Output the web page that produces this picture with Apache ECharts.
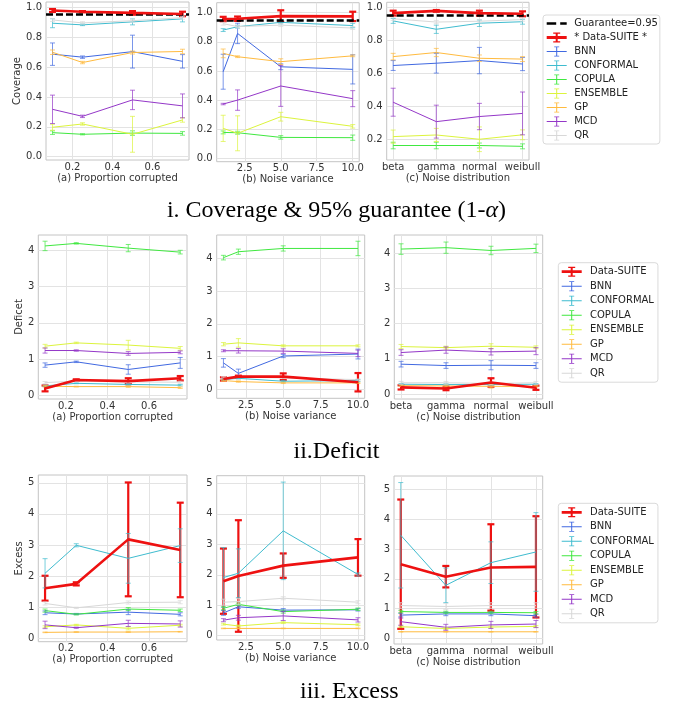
<!DOCTYPE html>
<html><head><meta charset="utf-8">
<script src="https://cdn.jsdelivr.net/npm/echarts@6/dist/echarts.min.js"></script>
<style>html,body{margin:0;padding:0;background:#fff}#c{width:673px;height:711px}</style>
</head><body><div id="c"></div>
<script>
// ---------------- data ----------------
const METHODS = ['Data-SUITE','BNN','CONFORMAL','COPULA','ENSEMBLE','GP','MCD','QR'];
const xProportion = [0.1, 0.25, 0.5, 0.75];
const xVariance = [1, 2, 5, 10];
const xDistribution = ['beta', 'gamma', 'normal', 'weibull'];
const GUARANTEE = 0.95;

const coverageProportionMean = {
  'Data-SUITE':[0.978,0.970,0.962,0.955], BNN:[0.686,0.666,0.703,0.638], CONFORMAL:[0.893,0.882,0.902,0.922],
  COPULA:[0.161,0.150,0.158,0.156], ENSEMBLE:[0.197,0.219,0.150,0.246], GP:[0.699,0.630,0.697,0.704],
  MCD:[0.317,0.270,0.380,0.340], QR:[0.915,0.895,0.910,0.930]};
const coverageProportionErr = {
  'Data-SUITE':[0.010,0.004,0.012,0.015], BNN:[0.075,0.008,0.110,0.045], CONFORMAL:[0.030,0.005,0.020,0.020],
  COPULA:[0.012,0.004,0.015,0.012], ENSEMBLE:[0.020,0.008,0.120,0.015], GP:[0.015,0.008,0.010,0.015],
  MCD:[0.095,0.008,0.065,0.080], QR:[0.010,0.008,0.010,0.010]};

const coverageVarianceMean = {
  'Data-SUITE':[0.957,0.959,0.977,0.975], BNN:[0.595,0.858,0.629,0.611], CONFORMAL:[0.881,0.904,0.934,0.912],
  COPULA:[0.178,0.176,0.144,0.142], ENSEMBLE:[0.206,0.172,0.286,0.220], GP:[0.721,0.698,0.664,0.704],
  MCD:[0.373,0.400,0.497,0.410], QR:[0.925,0.905,0.915,0.895]};
const coverageVarianceErr = {
  'Data-SUITE':[0.015,0.015,0.040,0.032], BNN:[0.120,0.070,0.020,0.100], CONFORMAL:[0.010,0.010,0.010,0.015],
  COPULA:[0.010,0.010,0.012,0.018], ENSEMBLE:[0.090,0.120,0.030,0.012], GP:[0.030,0.006,0.020,0.006],
  MCD:[0.005,0.070,0.140,0.055], QR:[0.010,0.010,0.010,0.010]};

const coverageDistributionMean = {
  'Data-SUITE':[0.964,0.978,0.964,0.960], BNN:[0.646,0.660,0.676,0.655], CONFORMAL:[0.917,0.866,0.903,0.912],
  COPULA:[0.160,0.160,0.160,0.155], ENSEMBLE:[0.214,0.224,0.198,0.225], GP:[0.700,0.725,0.690,0.685],
  MCD:[0.423,0.305,0.336,0.355], QR:[0.930,0.910,0.915,0.925]};
const coverageDistributionErr = {
  'Data-SUITE':[0.015,0.005,0.015,0.015], BNN:[0.030,0.060,0.080,0.040], CONFORMAL:[0.015,0.025,0.020,0.015],
  COPULA:[0.020,0.020,0.015,0.015], ENSEMBLE:[0.040,0.040,0.075,0.030], GP:[0.020,0.025,0.020,0.015],
  MCD:[0.085,0.100,0.080,0.130], QR:[0.010,0.010,0.010,0.010]};

const deficitProportionMean = {
  'Data-SUITE':[0.20,0.43,0.40,0.48], BNN:[0.84,0.93,0.72,0.90], CONFORMAL:[0.27,0.34,0.31,0.29],
  COPULA:[4.11,4.18,4.05,3.94], ENSEMBLE:[1.36,1.45,1.39,1.30], GP:[0.26,0.25,0.25,0.22],
  MCD:[1.24,1.24,1.16,1.19], QR:[0.36,0.40,0.38,0.37]};
const deficitProportionErr = {
  'Data-SUITE':[0.08,0.02,0.08,0.06], BNN:[0.06,0.02,0.13,0.15], CONFORMAL:[0.02,0.01,0.02,0.02],
  COPULA:[0.13,0.02,0.10,0.05], ENSEMBLE:[0.05,0.02,0.13,0.05], GP:[0.02,0.01,0.02,0.02],
  MCD:[0.07,0.02,0.05,0.04], QR:[0.03,0.01,0.03,0.03]};

const deficitVarianceMean = {
  'Data-SUITE':[0.32,0.39,0.39,0.22], BNN:[0.81,0.49,1.02,1.08], CONFORMAL:[0.30,0.34,0.25,0.27],
  COPULA:[4.02,4.20,4.30,4.30], ENSEMBLE:[1.38,1.42,1.33,1.33], GP:[0.27,0.24,0.20,0.20],
  MCD:[1.18,1.18,1.17,1.10], QR:[0.37,0.38,0.35,0.30]};
const deficitVarianceErr = {
  'Data-SUITE':[0.05,0.03,0.10,0.28], BNN:[0.13,0.13,0.05,0.15], CONFORMAL:[0.02,0.02,0.02,0.03],
  COPULA:[0.07,0.08,0.08,0.22], ENSEMBLE:[0.05,0.13,0.03,0.03], GP:[0.02,0.02,0.02,0.02],
  MCD:[0.03,0.07,0.07,0.10], QR:[0.02,0.02,0.02,0.02]};

const deficitDistributionMean = {
  'Data-SUITE':[0.19,0.16,0.33,0.18], BNN:[0.85,0.81,0.82,0.81], CONFORMAL:[0.28,0.27,0.27,0.28],
  COPULA:[4.12,4.16,4.08,4.14], ENSEMBLE:[1.35,1.32,1.36,1.33], GP:[0.24,0.23,0.22,0.22],
  MCD:[1.18,1.25,1.20,1.22], QR:[0.32,0.32,0.30,0.32]};
const deficitDistributionErr = {
  'Data-SUITE':[0.06,0.05,0.12,0.06], BNN:[0.08,0.08,0.13,0.08], CONFORMAL:[0.02,0.02,0.02,0.02],
  COPULA:[0.15,0.16,0.12,0.12], ENSEMBLE:[0.06,0.04,0.07,0.04], GP:[0.02,0.03,0.05,0.02],
  MCD:[0.08,0.09,0.09,0.10], QR:[0.04,0.04,0.04,0.04]};

const excessProportionMean = {
  'Data-SUITE':[1.61,1.75,3.18,2.84], BNN:[0.82,0.78,0.84,0.77], CONFORMAL:[2.09,2.99,2.57,2.98],
  COPULA:[0.89,0.77,0.94,0.90], ENSEMBLE:[0.37,0.43,0.32,0.42], GP:[0.19,0.20,0.20,0.21],
  MCD:[0.43,0.34,0.48,0.46], QR:[1.12,0.98,1.15,1.16]};
const excessProportionErr = {
  'Data-SUITE':[0.40,0.05,1.83,1.52], BNN:[0.06,0.02,0.08,0.05], CONFORMAL:[0.47,0.05,0.80,0.54],
  COPULA:[0.05,0.02,0.05,0.04], ENSEMBLE:[0.03,0.02,0.05,0.03], GP:[0.01,0.01,0.01,0.01],
  MCD:[0.12,0.02,0.10,0.10], QR:[0.05,0.02,0.05,0.05]};

const excessVarianceMean = {
  'Data-SUITE':[1.79,1.96,2.30,2.57], BNN:[0.75,0.95,0.84,0.85], CONFORMAL:[1.91,2.05,3.44,2.01],
  COPULA:[0.90,1.03,0.79,0.87], ENSEMBLE:[0.38,0.32,0.43,0.36], GP:[0.24,0.24,0.24,0.24],
  MCD:[0.51,0.59,0.65,0.52], QR:[1.10,1.12,1.23,1.10]};
const excessVarianceErr = {
  'Data-SUITE':[1.07,1.83,0.40,0.60], BNN:[0.08,0.05,0.05,0.04], CONFORMAL:[0.98,0.80,1.60,0.05],
  COPULA:[0.05,0.04,0.05,0.04], ENSEMBLE:[0.03,0.03,0.03,0.03], GP:[0.01,0.01,0.01,0.01],
  MCD:[0.05,0.08,0.15,0.07], QR:[0.10,0.10,0.05,0.05]};

const excessDistributionMean = {
  'Data-SUITE':[2.49,2.07,2.38,2.40], BNN:[0.78,0.82,0.82,0.76], CONFORMAL:[3.46,1.78,2.54,2.90],
  COPULA:[0.90,0.87,0.87,0.86], ENSEMBLE:[0.39,0.33,0.38,0.40], GP:[0.22,0.22,0.22,0.22],
  MCD:[0.56,0.37,0.45,0.48], QR:[1.10,1.07,1.10,1.10]};
const excessDistributionErr = {
  'Data-SUITE':[2.17,0.36,1.45,1.70], BNN:[0.06,0.06,0.06,0.05], CONFORMAL:[1.77,0.58,0.70,1.32],
  COPULA:[0.04,0.04,0.04,0.04], ENSEMBLE:[0.03,0.03,0.03,0.03], GP:[0.01,0.01,0.01,0.01],
  MCD:[0.12,0.10,0.12,0.12], QR:[0.10,0.10,0.10,0.10]};

const coverageTicks = [0, 0.2, 0.4, 0.6, 0.8, 1.0];
const coverageTicksDist = [0.2, 0.4, 0.6, 0.8, 1.0];
const deficitTicks = [0, 1, 2, 3, 4];
const excessTicks = [0, 1, 2, 3, 4, 5];
const proportionTicks = [0.2, 0.4, 0.6];
const varianceTicks = [2.5, 5.0, 7.5, 10.0];

// ---------------- styles / layout ----------------
const COLORS = {'Data-SUITE':'#ee1111', BNN:'#4169e1', CONFORMAL:'#3fbccf', COPULA:'#40e840',
  ENSEMBLE:'#dcf43c', GP:'#ffbb3f', MCD:'#9437c8', QR:'#d8d8d8'};
const FONT = 'DejaVu Sans';
const LABEL_COLOR = '#333333';

const XCFG = {
  prop: {min:0.0675, max:0.7825, ticks:proportionTicks, fmt:v => v.toFixed(1), name:'(a) Proportion corrupted', xs:xProportion},
  var:  {min:0.55, max:10.45, ticks:varianceTicks, fmt:v => v.toFixed(1), name:'(b) Noise variance', xs:xVariance},
  dist: {min:-0.15, max:3.15, ticks:xDistribution.map((_, k) => k), fmt:v => xDistribution[Math.round(v)], name:'(c) Noise distribution', xs:xDistribution.map((_, k) => k)}
};

const panels = [
  {row:0, kind:'prop', mean:coverageProportionMean, err:coverageProportionErr, grid:{left:46, top:2, width:143, height:158}, yMin:-0.022, yMax:1.035, yTicks:coverageTicks, dec:1, yName:'Coverage', yGap:19},
  {row:0, kind:'var', mean:coverageVarianceMean, err:coverageVarianceErr, grid:{left:216.7, top:2.7, width:142.5, height:159}, yMin:-0.023, yMax:1.069, yTicks:coverageTicks, dec:1},
  {row:0, kind:'dist', mean:coverageDistributionMean, err:coverageDistributionErr, grid:{left:386.7, top:2.3, width:142.3, height:157.7}, yMin:0.072, yMax:1.03, yTicks:coverageTicksDist, dec:1},
  {row:1, kind:'prop', mean:deficitProportionMean, err:deficitProportionErr, grid:{left:38.3, top:235, width:148.7, height:164}, yMin:-0.09, yMax:4.41, yTicks:deficitTicks, dec:0, yName:'Deficet', yGap:10},
  {row:1, kind:'var', mean:deficitVarianceMean, err:deficitVarianceErr, grid:{left:216.7, top:235, width:148, height:163.3}, yMin:-0.27, yMax:4.71, yTicks:deficitTicks, dec:0},
  {row:1, kind:'dist', mean:deficitDistributionMean, err:deficitDistributionErr, grid:{left:394.3, top:235, width:148.4, height:164}, yMin:-0.14, yMax:4.52, yTicks:deficitTicks, dec:0},
  {row:2, kind:'prop', mean:excessProportionMean, err:excessProportionErr, grid:{left:38.3, top:475, width:148.7, height:166.7}, yMin:-0.11, yMax:5.25, yTicks:excessTicks, dec:0, yName:'Excess', yGap:10},
  {row:2, kind:'var', mean:excessVarianceMean, err:excessVarianceErr, grid:{left:216.7, top:475.7, width:148, height:164.3}, yMin:-0.14, yMax:5.25, yTicks:excessTicks, dec:0},
  {row:2, kind:'dist', mean:excessDistributionMean, err:excessDistributionErr, grid:{left:394, top:476, width:148.7, height:168}, yMin:-0.19, yMax:5.45, yTicks:excessTicks, dec:0}
];

const ICON_ERR = 'path://M0,4.5h20v1H0z M9.5,0h1v10h-1z M7.5,0h5v0.8h-5z M7.5,9.2h5v0.8h-5z';
const ICON_DS = 'path://M0,3.6h20v2.8H0z M9,0h2v10h-2z M6.5,0h7v1.2h-7z M6.5,8.8h7v1.2h-7z';
const ICON_DASH = 'path://M0,3.7h9.5v2.6H0z M13.5,3.7h6.5v2.6h-6.5z';

function makeErrRender(color, isDS) {
  return function (params, api) {
    const x = api.value(0), y = api.value(1), e = api.value(2);
    const top = api.coord([x, y + e]);
    const bot = api.coord([x, y - e]);
    const cap = isDS ? 3.5 : 2.5;
    const st = {stroke: color, lineWidth: isDS ? 2.2 : 1, opacity: isDS ? 1 : 0.7};
    return {type:'group', children:[
      {type:'line', shape:{x1:top[0], y1:top[1], x2:bot[0], y2:bot[1]}, style:st},
      {type:'line', shape:{x1:top[0]-cap, y1:top[1], x2:top[0]+cap, y2:top[1]}, style:st},
      {type:'line', shape:{x1:bot[0]-cap, y1:bot[1], x2:bot[0]+cap, y2:bot[1]}, style:st}
    ]};
  };
}

const grids = [], xAxes = [], yAxes = [], series = [];
panels.forEach((p, i) => {
  const xc = XCFG[p.kind];
  grids.push(Object.assign({show:true, borderColor:'#c4c4c4', borderWidth:1, backgroundColor:'transparent'}, p.grid));
  xAxes.push({type:'value', gridIndex:i, min:xc.min, max:xc.max,
    name:xc.name, nameLocation:'middle', nameGap:13,
    nameTextStyle:{fontFamily:FONT, fontSize:10, color:LABEL_COLOR},
    axisLine:{show:false}, axisTick:{show:false, customValues:xc.ticks},
    axisLabel:{customValues:xc.ticks, formatter:xc.fmt, fontFamily:FONT, fontSize:10, color:LABEL_COLOR, margin:2},
    splitLine:{show:true, lineStyle:{color:'#e3e3e3', width:1}}});
  yAxes.push({type:'value', gridIndex:i, min:p.yMin, max:p.yMax,
    name:p.yName || '', nameLocation:'middle', nameGap:p.yGap || 20, nameRotate:90,
    nameTextStyle:{fontFamily:FONT, fontSize:10, color:LABEL_COLOR},
    axisLine:{show:false}, axisTick:{show:false, customValues:p.yTicks},
    axisLabel:{customValues:p.yTicks, formatter:v => v.toFixed(p.dec), fontFamily:FONT, fontSize:10, color:LABEL_COLOR, margin:4},
    splitLine:{show:true, lineStyle:{color:'#e3e3e3', width:1}}});
  if (p.row === 0) {
    series.push({type:'line', name:'Guarantee=' + GUARANTEE, xAxisIndex:i, yAxisIndex:i, data:[], color:'#000',
      itemStyle:{color:'#000'}, z:6,
      markLine:{silent:true, symbol:['none','none'], label:{show:false},
        lineStyle:{color:'#000', type:[7,3], width:2.6}, data:[{yAxis:GUARANTEE}]}});
  }
  METHODS.forEach(m => {
    const isDS = m === 'Data-SUITE';
    const name = (p.row === 0 && isDS) ? '* Data-SUITE *' : m;
    const mean = p.mean[m], err = p.err[m], color = COLORS[m];
    series.push({type:'line', name, xAxisIndex:i, yAxisIndex:i, color,
      itemStyle:{color}, data:xc.xs.map((x, k) => [x, mean[k]]), symbol:'none',
      lineStyle:{color, width:isDS ? 2.6 : 1}, z:isDS ? 5 : 3, silent:true});
    series.push({type:'custom', name, xAxisIndex:i, yAxisIndex:i, color, itemStyle:{color},
      dimensions:['x','y','e'], encode:{x:0, y:1},
      data:xc.xs.map((x, k) => [x, mean[k], err[k]]),
      renderItem:makeErrRender(color, isDS), z:isDS ? 2 : 4, silent:true});
  });
});

function legendItems(first) {
  return first.concat(METHODS.slice(1).map(m => ({name:m, icon:ICON_ERR})));
}
const legendBase = {orient:'vertical', itemWidth:20, itemHeight:10, selectedMode:false,
  backgroundColor:'#ffffff', borderColor:'#dadada', borderWidth:1, borderRadius:3,
  textStyle:{fontFamily:FONT, fontSize:10, color:'#222', lineHeight:10, padding:[0,0,0,2.5]}};
const legends = [
  Object.assign({}, legendBase, {left:543, top:15, padding:[3.5,2,3.5,3.7], itemGap:4,
    data:legendItems([{name:'Guarantee=' + GUARANTEE, icon:ICON_DASH}, {name:'* Data-SUITE *', icon:ICON_DS}])}),
  Object.assign({}, legendBase, {left:558.3, top:262.7, padding:[4,4,4,3.4], itemGap:4.5,
    textStyle:Object.assign({}, legendBase.textStyle, {padding:[0,0,0,3.3]}),
    data:legendItems([{name:'Data-SUITE', icon:ICON_DS}])}),
  Object.assign({}, legendBase, {left:558.3, top:503.3, padding:[4,4,4,3.4], itemGap:4.5,
    textStyle:Object.assign({}, legendBase.textStyle, {padding:[0,0,0,3.3]}),
    data:legendItems([{name:'Data-SUITE', icon:ICON_DS}])})
];

const capStyle = {fontFamily:'Liberation Serif', fontSize:24, fontWeight:'normal', color:'#000',
  rich:{a:{fontFamily:'Liberation Serif', fontSize:24, fontStyle:'italic', color:'#000'}}};
const titles = [
  {text:'i. Coverage & 95% guarantee (1-{a|α})', left:'center', top:199, padding:0, textStyle:capStyle},
  {text:'ii.Deficit', left:'center', top:440, padding:0, textStyle:capStyle},
  {text:'iii. Excess', left:300, top:680, padding:0, textStyle:capStyle}
];

const chart = echarts.init(document.getElementById('c'), null, {renderer:'canvas'});
chart.setOption({animation:false, backgroundColor:'#fff', title:titles, legend:legends,
  grid:grids, xAxis:xAxes, yAxis:yAxes, series});
</script></body></html>
